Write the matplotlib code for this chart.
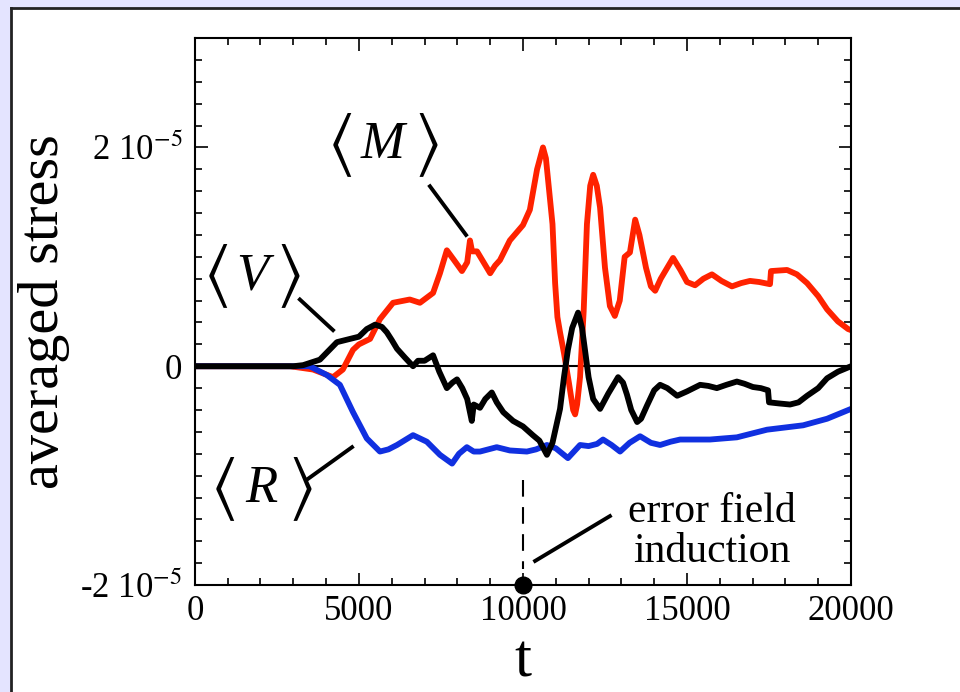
import numpy as np
import matplotlib.pyplot as plt
from matplotlib.patches import Rectangle
from matplotlib.lines import Line2D

plt.rcParams['font.family'] = 'Liberation Serif'
plt.rcParams['mathtext.fontset'] = 'stix'

# values, stress in units of 1e-5
t_M = [0, 2900, 3600, 4210, 4510, 4820, 5000, 5340, 5640, 6040, 6550, 6860, 7260, 7470, 7680,
       7900, 8140, 8300, 8385, 8450, 8600, 8800, 9000, 9150, 9300, 9600, 10000, 10210, 10430,
       10610, 10700, 10800, 10900, 10980, 11050, 11130, 11250, 11400, 11530, 11590, 11650, 11740,
       11850, 11950, 12050, 12140, 12250, 12350, 12500, 12650, 12800, 12950, 13100, 13260, 13420,
       13550, 13750, 13900, 14030, 14200, 14575, 14800, 15000, 15245, 15500, 15760, 16050, 16370,
       16650, 16920, 17200, 17530, 17560, 18050, 18350, 18660, 19000, 19270, 19600, 19910, 20000]
M = [0, 0, -0.03, -0.1, -0.03, 0.15, 0.2, 0.25, 0.43, 0.58, 0.61, 0.58, 0.67, 0.85, 1.06,
     0.97, 0.87, 0.95, 1.15, 1.05, 1.05, 0.95, 0.85, 0.92, 0.97, 1.15, 1.29, 1.43, 1.8,
     2.0, 1.9, 1.6, 1.3, 0.76, 0.45, 0.31, 0.12, -0.15, -0.4, -0.44, -0.35, -0.1,
     0.5, 1.3, 1.65, 1.75, 1.65, 1.45, 0.9, 0.55, 0.46, 0.6, 1.0, 1.04, 1.34,
     1.2, 0.9, 0.73, 0.69, 0.8, 0.99, 0.88, 0.77, 0.74, 0.8, 0.84, 0.78, 0.73,
     0.76, 0.78, 0.77, 0.75, 0.87, 0.88, 0.84, 0.76, 0.64, 0.52, 0.41, 0.34, 0.33]

t_V = [0, 3000, 3300, 3810, 4330, 4730, 5000, 5240, 5490, 5700, 5850, 6000, 6160, 6400, 6650,
       6800, 7000, 7260, 7450, 7680, 7850, 7990, 8150, 8300, 8440, 8500, 8690, 8850, 9050, 9200,
       9400, 9700, 10000, 10300, 10500, 10730, 10900, 11130, 11250, 11370, 11500, 11680, 11800,
       11890, 12000, 12140, 12350, 12600, 12900, 13050, 13170, 13300, 13480, 13600, 13780, 14000,
       14180, 14400, 14700, 15000, 15400, 15650, 15910, 16200, 16520, 16750, 17010, 17250, 17470,
       17500, 17800, 18140, 18400, 18660, 19000, 19270, 19600, 20000]
V = [0, 0, 0.01, 0.06, 0.22, 0.25, 0.27, 0.34, 0.38, 0.36, 0.31, 0.24, 0.16, 0.08, 0.0,
     0.05, 0.05, 0.1, -0.05, -0.2, -0.15, -0.12, -0.2, -0.3, -0.5, -0.35, -0.38, -0.3, -0.24, -0.33,
     -0.42, -0.5, -0.55, -0.63, -0.68, -0.81, -0.7, -0.39, -0.1, 0.15, 0.35, 0.49, 0.35,
     0.15, -0.1, -0.3, -0.39, -0.25, -0.1, -0.15, -0.26, -0.4, -0.51, -0.48, -0.36, -0.22,
     -0.17, -0.2, -0.27, -0.23, -0.17, -0.18, -0.2, -0.17, -0.14, -0.16, -0.19, -0.2, -0.22,
     -0.33, -0.34, -0.35, -0.33, -0.27, -0.2, -0.11, -0.05, 0.0]

t_R = [0, 3500, 4020, 4420, 4820, 5240, 5640, 5900, 6160, 6650, 7070, 7470, 7840, 8050, 8290,
       8500, 8690, 9200, 9600, 10120, 10400, 10730, 11000, 11370, 11740, 12000, 12260, 12440,
       12700, 12960, 13250, 13570, 13900, 14180, 14500, 14790, 15700, 16520, 17440, 18540,
       19270, 20000]
R = [0, 0, -0.08, -0.17, -0.42, -0.66, -0.78, -0.76, -0.72, -0.63, -0.69, -0.81, -0.89, -0.8, -0.74,
     -0.78, -0.78, -0.74, -0.77, -0.78, -0.76, -0.72, -0.75, -0.84, -0.72, -0.73, -0.71, -0.67,
     -0.72, -0.78, -0.7, -0.64, -0.7, -0.72, -0.69, -0.67, -0.67, -0.65, -0.58, -0.54,
     -0.48, -0.39]

xticks = [0, 5000, 10000, 15000, 20000]
yticks = [-2e-5, 0, 2e-5]
yticklabels = [r'-2 10$^{-5}$', '0', r'2 10$^{-5}$']
t_error = 10000

fig = plt.figure(figsize=(9.6, 6.92), dpi=100)
# lavender frame strip on top and left
fig.patches.append(Rectangle((0, 0.99), 1, 0.01, transform=fig.transFigure, color='#e4e4ff', zorder=0))
fig.patches.append(Rectangle((0, 0), 0.011, 1, transform=fig.transFigure, color='#e4e4ff', zorder=0))
fig.lines.append(Line2D([0.011, 1], [0.9885, 0.9885], transform=fig.transFigure, color='#222222', lw=2))
fig.lines.append(Line2D([0.0115, 0.0115], [0, 0.9885], transform=fig.transFigure, color='#222222', lw=2))

ax = fig.add_axes([0.203, 0.1546, 0.6835, 0.7904])
ax.axhline(0, color='black', lw=1.5, zorder=1)
ax.plot(t_M, np.array(M) * 1e-5, color='#ff2200', lw=4.2, zorder=2)
ax.plot(t_R, np.array(R) * 1e-5, color='#1030e0', lw=4.2, zorder=2)
ax.plot(t_V, np.array(V) * 1e-5, color='black', lw=4.2, zorder=3)

ax.set_xlim(0, 20000)
ax.set_ylim(-2e-5, 2.96e-5)
ax.set_xticks(xticks)
ax.set_xticklabels([str(x) for x in xticks])
ax.set_xticks(np.arange(0, 20001, 1000), minor=True)
ax.set_yticks(yticks)
ax.set_yticklabels(yticklabels)
ax.set_yticks(np.arange(-2e-5, 3e-5, 2e-6), minor=True)
ax.tick_params(which='both', direction='in', top=True, right=True, width=1.2, labelsize=25)
ax.tick_params(which='major', length=9)
ax.tick_params(which='minor', length=5)
ax.tick_params(axis='x', pad=7)
ax.tick_params(axis='y', pad=9)
for s in ax.spines.values():
    s.set_linewidth(1.5)

ax.set_xlabel('t', fontsize=44)
ax.set_ylabel('averaged stress', fontsize=42)
ax.xaxis.set_label_coords(0.5, -0.09)
ax.yaxis.set_label_coords(-0.19, 0.5)


def bracket_label(x, y, letter, dx):
    ax.annotate(r'$\langle$', (x, y), xytext=(-dx, 0), textcoords='offset points',
                ha='center', va='center', fontsize=50)
    ax.annotate(r'$\rangle$', (x, y), xytext=(dx, 0), textcoords='offset points',
                ha='center', va='center', fontsize=50)
    ax.text(x, y, letter, ha='center', va='center', fontsize=38, style='italic')


bracket_label(5730, 2.02e-5, 'M', 31)
bracket_label(1740, 0.82e-5, 'V', 26)
bracket_label(2040, -1.12e-5, 'R', 28)

# leader lines
ax.plot([7165, 8265], [1.645e-5, 1.2e-5], color='black', lw=2.8)
ax.plot([3200, 4210], [0.61e-5, 0.33e-5], color='black', lw=2.8)
ax.plot([3445, 4790], [-1.03e-5, -0.74e-5], color='black', lw=2.8)
ax.plot([10370, 12650], [-1.78e-5, -1.37e-5], color='black', lw=2.8)

ax.plot([t_error, t_error], [-1.04e-5, -1.85e-5], color='black', lw=1.5, dashes=(8, 5))
ax.plot([t_error], [-2e-5], 'o', color='black', ms=12, clip_on=False, zorder=5)
ax.text(15760, -1.51e-5, 'error field\ninduction', ha='center', va='center', fontsize=30,
        linespacing=1.05)

fig.savefig('out.png', dpi=100)
